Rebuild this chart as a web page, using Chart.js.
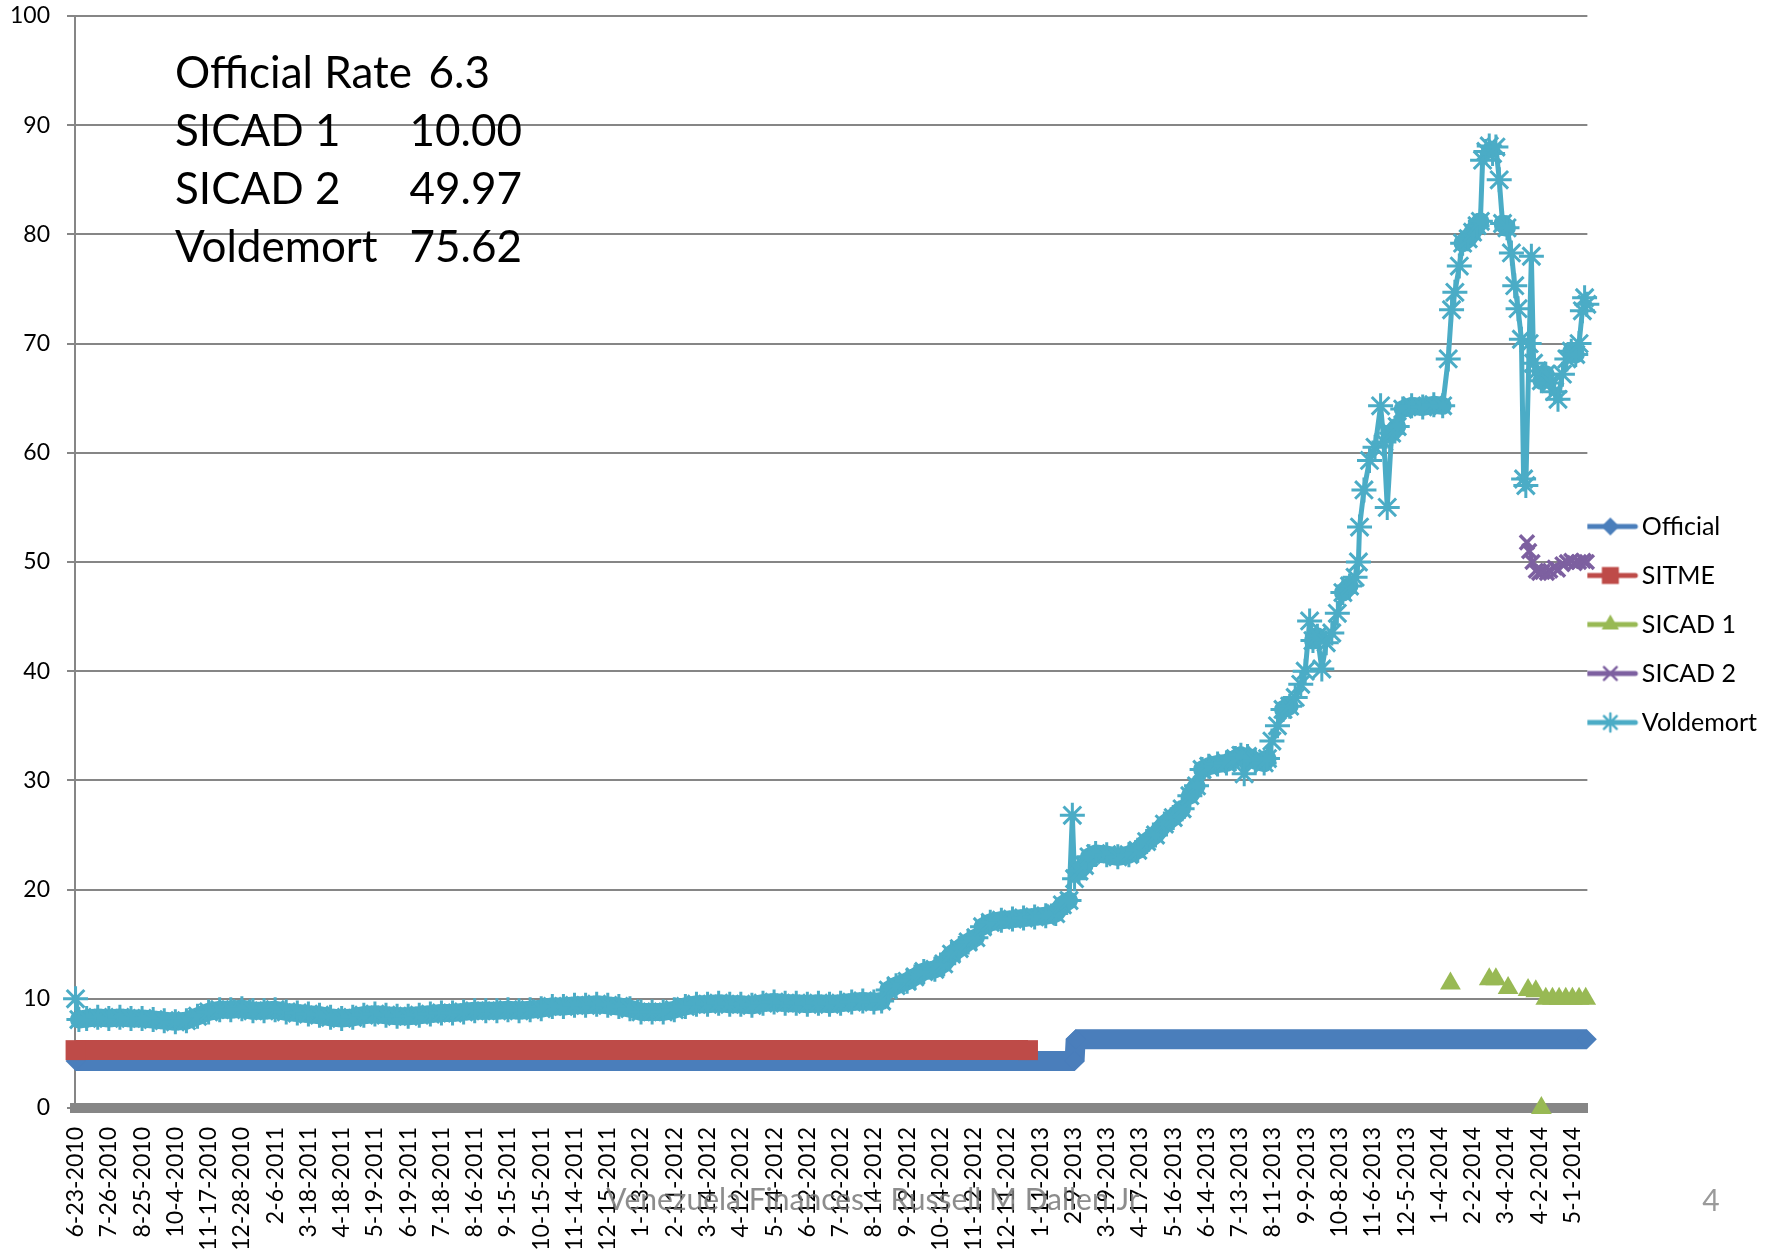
<!DOCTYPE html>
<html>
<head>
<meta charset="utf-8">
<title>Venezuela exchange rates</title>
<script src="https://cdn.jsdelivr.net/npm/chart.js@4.4.1/dist/chart.umd.min.js"></script>
<style>
  html, body { margin: 0; padding: 0; background: #fff; }
  #wrap { width: 1778px; height: 1249px; }
</style>
</head>
<body>
<div id="wrap"><canvas id="rates" width="1778" height="1249"></canvas></div>
<script>
// x axis: one label every 30 trading days
const dateLabels = [
  '6-23-2010', '7-26-2010', '8-25-2010', '10-4-2010', '11-17-2010', '12-28-2010',
  '2-6-2011', '3-18-2011', '4-18-2011', '5-19-2011', '6-19-2011', '7-18-2011',
  '8-16-2011', '9-15-2011', '10-15-2011', '11-14-2011', '12-15-2011', '1-13-2012',
  '2-11-2012', '3-14-2012', '4-12-2012', '5-14-2012', '6-12-2012', '7-12-2012',
  '8-14-2012', '9-12-2012', '10-14-2012', '11-12-2012', '12-11-2012', '1-11-2013',
  '2-9-2013', '3-19-2013', '4-17-2013', '5-16-2013', '6-14-2013', '7-13-2013',
  '8-11-2013', '9-9-2013', '10-8-2013', '11-6-2013', '12-5-2013', '1-4-2014',
  '2-2-2014', '3-4-2014', '4-2-2014', '5-1-2014'
];
const labelStep = 30;
const lastDay = 1363;

const officialDay = [0, 901, 902, 1363];
const officialRate = [4.3, 4.3, 6.3, 6.3];

const sitmeDay = [0, 859];
const sitmeRate = [5.3, 5.3];

const sicad1Day = [1240, 1275, 1281, 1292, 1310, 1317, 1322, 1326, 1332, 1338, 1344, 1350, 1356, 1362];
const sicad1Rate = [11.4, 11.8, 11.8, 11.0, 10.8, 10.7, 0, 10.0, 10.0, 10.0, 10.0, 10.0, 10.0, 10.0];

const sicad2Day = [1309, 1311, 1314, 1317, 1320, 1323, 1327, 1330, 1334, 1337, 1341, 1345, 1349, 1352, 1356, 1360, 1363];
const sicad2Rate = [51.8, 51.0, 50.0, 49.2, 49.0, 49.1, 49.0, 49.2, 49.5, 49.3, 49.8, 50.0, 50.1, 49.9, 50.0, 50.1, 50.0];

const voldemortDay = [
  0, 3, 10, 20, 30, 40, 50, 60, 70, 80, 90, 100, 110, 120, 130, 140, 150, 160, 170, 180,
  190, 200, 210, 220, 230, 240, 250, 260, 270, 280, 290, 300, 310, 320, 330, 340, 350, 360, 370, 380,
  390, 400, 410, 420, 430, 440, 450, 460, 470, 480, 490, 500, 510, 520, 530, 540, 550, 560, 570, 580,
  590, 600, 610, 620, 630, 640, 650, 660, 670, 680, 690, 700, 710, 720, 727, 733, 740, 750, 757, 765,
  775, 783, 790, 797, 805, 812, 818, 825, 835, 845, 855, 865, 875, 884, 890, 896, 899, 901, 905, 910,
  914, 920, 930, 940, 950, 958, 966, 974, 982, 990, 998, 1005, 1011, 1016, 1022, 1030, 1038, 1046, 1051, 1054,
  1057, 1064, 1072, 1075, 1079, 1084, 1089, 1095, 1100, 1105, 1109, 1113, 1116, 1120, 1124, 1128, 1133, 1138, 1143, 1149,
  1154, 1157, 1158, 1162, 1167, 1172, 1177, 1180, 1183, 1187, 1192, 1197, 1205, 1215, 1225, 1233, 1238, 1241, 1244, 1248,
  1251, 1256, 1260, 1264, 1267, 1269, 1272, 1275, 1278, 1281, 1284, 1287, 1291, 1295, 1298, 1301, 1304, 1306, 1308, 1311,
  1313, 1315, 1318, 1322, 1326, 1330, 1334, 1337, 1341, 1345, 1349, 1353, 1356, 1359, 1361, 1363
];
const voldemortRate = [
  10.0, 8.1, 8.2, 8.3, 8.2, 8.3, 8.2, 8.2, 8.1, 8.0, 7.9, 8.0, 8.4, 8.8, 9.0, 9.0, 9.1, 8.9, 8.9, 9.0,
  8.8, 8.7, 8.6, 8.5, 8.3, 8.2, 8.3, 8.5, 8.6, 8.5, 8.4, 8.4, 8.5, 8.6, 8.7, 8.7, 8.8, 8.9, 8.9, 8.9,
  9.0, 8.9, 9.0, 9.1, 9.3, 9.3, 9.4, 9.4, 9.5, 9.4, 9.3, 9.1, 8.8, 8.8, 8.8, 9.0, 9.3, 9.5, 9.5, 9.6,
  9.5, 9.5, 9.4, 9.6, 9.7, 9.6, 9.6, 9.5, 9.6, 9.5, 9.6, 9.7, 9.8, 9.7, 9.8, 10.8, 11.2, 11.6, 12.0, 12.5,
  12.7, 13.2, 14.1, 14.6, 15.2, 15.6, 16.6, 17.0, 17.2, 17.3, 17.4, 17.5, 17.6, 17.8, 18.6, 19.0, 26.8, 21.0, 21.7, 22.2,
  23.0, 23.3, 23.2, 23.0, 23.2, 23.6, 24.4, 25.0, 26.0, 26.6, 27.4, 28.6, 29.5, 31.0, 31.3, 31.5, 31.6, 32.0, 32.3, 30.6,
  32.2, 31.8, 31.6, 32.0, 33.6, 35.0, 36.5, 36.8, 37.6, 38.8, 40.0, 44.6, 42.8, 43.2, 40.2, 42.6, 43.5, 45.3, 47.2, 47.8,
  48.6, 50.0, 53.2, 56.6, 59.3, 60.5, 64.3, 61.0, 55.0, 61.8, 62.4, 64.0, 64.3, 64.2, 64.4, 64.3, 68.6, 73.1, 74.7, 77.1,
  79.2, 79.6, 80.2, 80.8, 81.2, 86.8, 87.6, 88.1, 87.4, 88.0, 85.0, 81.0, 80.6, 78.3, 75.3, 73.2, 70.4, 57.6, 57.0, 70.0,
  78.0, 68.2, 67.5, 66.6, 67.2, 66.4, 65.6, 64.9, 67.2, 68.6, 69.3, 69.0, 70.0, 73.0, 74.2, 73.6
];

// text box in the top-left corner
const noteNames = ['Official Rate', 'SICAD 1', 'SICAD 2', 'Voldemort'];
const noteValues = ['6.3', '10.00', '49.97', '75.62'];

const FONT = 'Lato';

function points(days, rates) {
  return days.map((d, i) => ({ x: d, y: rates[i] }));
}

// legend swatch: short line with the series marker in the middle
function swatch(ds) {
  const c = document.createElement('canvas');
  c.width = 76;
  c.height = 28;
  const g = c.getContext('2d');
  g.strokeStyle = ds.borderColor;
  g.fillStyle = ds.borderColor;
  g.lineCap = 'round';
  g.lineWidth = 5;
  g.beginPath();
  g.moveTo(3, 14);
  g.lineTo(53, 14);
  g.stroke();
  g.lineWidth = ds.legendMarker.borderWidth;
  Chart.helpers.drawPoint(g, {
    pointStyle: ds.pointStyle,
    radius: ds.legendMarker.radius,
    rotation: 0,
    borderWidth: ds.legendMarker.borderWidth
  }, 28, 14);
  return c;
}

// daily data makes the flat stretches look like a wide band; steep jumps stay thin
function bandWidth(ctx) {
  const dx = Math.abs(ctx.p1.x - ctx.p0.x);
  const dy = Math.abs(ctx.p1.y - ctx.p0.y);
  return dy > 1.5 * dx ? 5 : 18;
}

const notesPlugin = {
  id: 'notes',
  afterDraw(chart) {
    const { ctx, chartArea } = chart;
    ctx.save();
    ctx.fillStyle = '#000';
    ctx.font = '44px ' + FONT;
    ctx.textBaseline = 'alphabetic';
    noteNames.forEach((name, i) => {
      const y = chartArea.top + 72 + i * 58;
      ctx.textAlign = 'left';
      ctx.fillText(name, chartArea.left + 100, y);
      ctx.textAlign = 'right';
      ctx.fillText(noteValues[i], chartArea.left + (i === 0 ? 415 : 447), y);
    });
    ctx.font = '30px ' + FONT;
    ctx.textAlign = 'center';
    ctx.fillStyle = 'rgba(120,120,120,0.85)';
    ctx.fillText('Venezuela Finances - Russell M Dallen Jr', 873, 1210);
    ctx.fillStyle = '#9a9a9a';
    ctx.fillText('4', 1711, 1211);
    ctx.restore();
  }
};

const chart = new Chart(document.getElementById('rates'), {
  type: 'line',
  data: {
    datasets: [
      {
        label: 'Official',
        data: points(officialDay, officialRate),
        borderColor: '#4A7EBB',
        backgroundColor: '#4A7EBB',
        borderWidth: 20,
        borderJoinStyle: 'bevel',
        pointStyle: 'rectRot',
        pointRadius: 10,
        pointBorderWidth: 0,
        legendMarker: { radius: 9, borderWidth: 0 },
        order: 5
      },
      {
        label: 'SITME',
        data: points(sitmeDay, sitmeRate),
        borderColor: '#BE4B48',
        backgroundColor: '#BE4B48',
        borderWidth: 20,
        pointStyle: 'rect',
        pointRadius: 14.1,
        pointBorderWidth: 0,
        legendMarker: { radius: 12, borderWidth: 0 },
        order: 4
      },
      {
        label: 'SICAD 1',
        data: points(sicad1Day, sicad1Rate),
        borderColor: '#98B954',
        backgroundColor: '#98B954',
        showLine: false,
        pointStyle: 'triangle',
        pointRadius: 12,
        pointBorderWidth: 0,
        legendMarker: { radius: 10, borderWidth: 0 },
        order: 3
      },
      {
        label: 'SICAD 2',
        data: points(sicad2Day, sicad2Rate),
        borderColor: '#7D60A0',
        backgroundColor: '#7D60A0',
        borderWidth: 4,
        pointStyle: 'crossRot',
        pointRadius: 10,
        pointBorderWidth: 3.5,
        legendMarker: { radius: 9, borderWidth: 2.5 },
        order: 2
      },
      {
        label: 'Voldemort',
        data: points(voldemortDay, voldemortRate),
        borderColor: '#4BACC6',
        backgroundColor: '#4BACC6',
        borderWidth: 5,
        borderCapStyle: 'round',
        borderJoinStyle: 'round',
        segment: { borderWidth: bandWidth },
        pointStyle: 'star',
        pointRadius: 12.5,
        pointBorderWidth: 3,
        legendMarker: { radius: 9, borderWidth: 2.5 },
        order: 1
      }
    ]
  },
  options: {
    responsive: false,
    animation: false,
    events: [],
    elements: { line: { tension: 0 } },
    datasets: { line: { clip: false } },
    layout: { padding: { top: 0, right: 11, left: 0, bottom: 0 } },
    scales: {
      x: {
        type: 'linear',
        position: 'bottom',
        min: -0.5,
        max: lastDay + 0.5,
        afterBuildTicks: (scale) => {
          scale.ticks = dateLabels.map((_, i) => ({ value: i * labelStep }));
        },
        afterFit: (scale) => { scale.height = 141; },
        ticks: {
          autoSkip: false,
          minRotation: 90,
          maxRotation: 90,
          padding: 19,
          color: '#000',
          font: { family: FONT, size: 23 },
          callback: (value, index) => dateLabels[index]
        },
        grid: { display: false, drawTicks: false },
        border: { color: '#868686', width: 10 }
      },
      y: {
        min: 0,
        max: 100,
        afterFit: (scale) => {
          scale.width = 75;
          scale.paddingTop = 16;
        },
        ticks: {
          stepSize: 10,
          padding: 17,
          color: '#000',
          font: { family: FONT, size: 23 }
        },
        grid: { color: '#868686', lineWidth: 2, tickLength: 8 },
        border: { color: '#868686', width: 2 }
      }
    },
    plugins: {
      tooltip: { enabled: false },
      legend: {
        position: 'right',
        labels: {
          usePointStyle: true,
          pointStyleWidth: 18,
          padding: 24,
          color: '#000',
          font: { family: FONT, size: 25 },
          generateLabels: (c) => c.data.datasets.map((ds, i) => ({
            text: ds.label,
            pointStyle: swatch(ds),
            fillStyle: ds.borderColor,
            strokeStyle: ds.borderColor,
            lineWidth: 0,
            hidden: false,
            datasetIndex: i
          }))
        }
      }
    }
  },
  plugins: [notesPlugin]
});
</script>
</body>
</html>
